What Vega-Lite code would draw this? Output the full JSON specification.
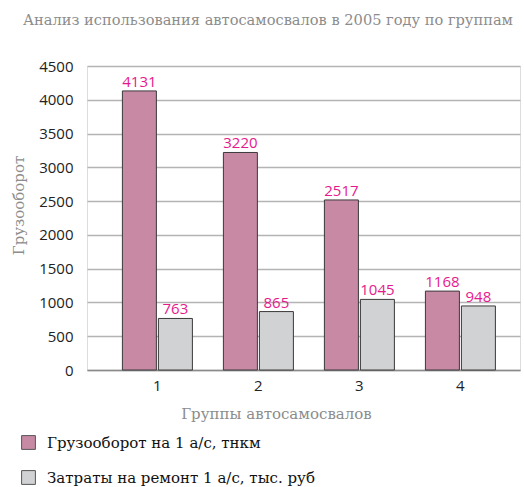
{
  "$schema": "https://vega.github.io/schema/vega-lite/v6.json",
  "width": 433,
  "height": 304,
  "autosize": {"type": "none"},
  "padding": {"left": 87, "top": 66, "right": 4, "bottom": 117},
  "background": "white",
  "title": {
    "text": "Анализ использования автосамосвалов в 2005 году по группам",
    "anchor": "start",
    "frame": "group",
    "dx": -64,
    "offset": 31,
    "font": "DejaVu Serif",
    "fontSize": 14.6,
    "fontWeight": "normal",
    "color": "#8c8c8c"
  },
  "data": {
    "values": [
      {"group": "1", "series": "Грузооборот на 1 а/с, тнкм", "value": 4131},
      {"group": "1", "series": "Затраты на ремонт 1 а/с, тыс. руб", "value": 763},
      {"group": "2", "series": "Грузооборот на 1 а/с, тнкм", "value": 3220},
      {"group": "2", "series": "Затраты на ремонт 1 а/с, тыс. руб", "value": 865},
      {"group": "3", "series": "Грузооборот на 1 а/с, тнкм", "value": 2517},
      {"group": "3", "series": "Затраты на ремонт 1 а/с, тыс. руб", "value": 1045},
      {"group": "4", "series": "Грузооборот на 1 а/с, тнкм", "value": 1168},
      {"group": "4", "series": "Затраты на ремонт 1 а/с, тыс. руб", "value": 948}
    ]
  },
  "encoding": {
    "x": {
      "field": "group",
      "type": "nominal",
      "scale": {"paddingInner": 0.307, "paddingOuter": 0.297, "align": 0.59},
      "axis": {
        "labelAngle": 0,
        "ticks": false,
        "domainColor": "#8a8a8a",
        "domainWidth": 1.5,
        "labelPadding": 8,
        "labelFont": "Open Sans",
        "labelFontSize": 15,
        "labelColor": "#222222",
        "title": "Группы автосамосвалов",
        "titleFont": "DejaVu Serif",
        "titleFontSize": 15,
        "titleFontWeight": "normal",
        "titleColor": "#8c8c8c",
        "titleX": 189,
        "titleY": 48,
        "titleBaseline": "alphabetic"
      }
    },
    "xOffset": {
      "field": "series",
      "type": "nominal",
      "scale": {
        "domain": ["Грузооборот на 1 а/с, тнкм", "Затраты на ремонт 1 а/с, тыс. руб"],
        "paddingInner": 0.056,
        "paddingOuter": 0
      }
    },
    "y": {
      "field": "value",
      "type": "quantitative",
      "scale": {"domain": [0, 4500], "nice": false},
      "axis": {
        "values": [0, 500, 1000, 1500, 2000, 2500, 3000, 3500, 4000, 4500],
        "format": "d",
        "domain": false,
        "ticks": false,
        "labelPadding": 14,
        "labelFont": "Open Sans",
        "labelFontSize": 15,
        "labelColor": "#222222",
        "gridColor": "#b4b4b4",
        "gridWidth": 1.5,
        "title": "Грузооборот",
        "titleFont": "DejaVu Serif",
        "titleFontSize": 15,
        "titleFontWeight": "normal",
        "titleColor": "#8c8c8c",
        "titleX": -69,
        "titleY": 139,
        "titleAlign": "center",
        "titleBaseline": "middle"
      }
    }
  },
  "layer": [
    {
      "mark": {"type": "bar", "stroke": "#3a3a3a", "strokeWidth": 1},
      "encoding": {
        "color": {
          "field": "series",
          "type": "nominal",
          "scale": {
            "domain": ["Грузооборот на 1 а/с, тнкм", "Затраты на ремонт 1 а/с, тыс. руб"],
            "range": ["#c889a5", "#d1d2d4"]
          },
          "legend": {
            "orient": "none",
            "legendX": -66,
            "legendY": 369,
            "title": null,
            "direction": "vertical",
            "symbolType": "square",
            "symbolSize": 190,
            "symbolStrokeColor": "#555555",
            "symbolStrokeWidth": 1,
            "symbolOpacity": 1,
            "labelFont": "DejaVu Serif",
            "labelFontSize": 15,
            "labelColor": "#111111",
            "labelOffset": 11,
            "rowPadding": 16,
            "labelLimit": 400
          }
        }
      }
    },
    {
      "mark": {
        "type": "text",
        "baseline": "alphabetic",
        "dy": -4,
        "font": "Open Sans",
        "fontSize": 15,
        "color": "#e6198c"
      },
      "encoding": {"text": {"field": "value", "type": "quantitative"}}
    }
  ]
}
